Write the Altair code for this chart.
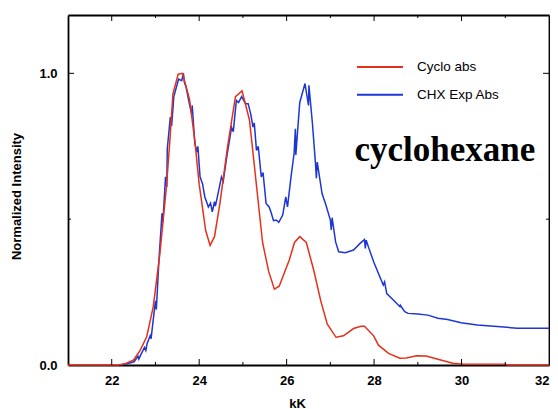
import altair as alt
import pandas as pd

# ---- data ----
cyclo_k = [21.0, 22.15, 22.3, 22.5, 22.65, 22.8, 22.95, 23.1, 23.25, 23.33, 23.4, 23.52, 23.62,
           23.78, 23.9, 24.0, 24.15, 24.25, 24.35, 24.47, 24.65, 24.83, 24.98, 25.15, 25.3,
           25.45, 25.59, 25.72, 25.83, 26.06, 26.18, 26.3, 26.45, 26.62, 26.78, 26.93, 27.13,
           27.3, 27.53, 27.7, 27.78, 27.99, 28.1, 28.33, 28.59, 28.74, 28.97, 29.19, 29.46,
           29.8, 30.06, 31.0, 31.05, 32.0]
cyclo_v = [0, 0, 0.004, 0.017, 0.05, 0.097, 0.2, 0.38, 0.61, 0.77, 0.93, 0.997, 1.0,
           0.91, 0.77, 0.62, 0.46, 0.41, 0.44, 0.55, 0.75, 0.92, 0.94, 0.84, 0.63,
           0.42, 0.32, 0.26, 0.27, 0.36, 0.42, 0.44, 0.42, 0.325, 0.22, 0.14, 0.095,
           0.10, 0.125, 0.133, 0.133, 0.10, 0.068, 0.04, 0.023, 0.024, 0.032, 0.031, 0.02,
           0.006, 0.003, 0.003, 0, 0]

chx_k = [22.2, 22.35, 22.51, 22.6, 22.62, 22.66, 22.75, 22.78, 22.81, 22.88, 22.9, 22.93,
         23.0, 23.02, 23.08, 23.15, 23.17, 23.23, 23.26, 23.27, 23.34, 23.37, 23.42, 23.53,
         23.6, 23.64, 23.66, 23.7, 23.79, 23.83, 23.84, 23.9, 23.95, 23.97, 24.02, 24.08,
         24.1, 24.13, 24.21, 24.26, 24.3, 24.35, 24.37, 24.4, 24.51, 24.55, 24.63, 24.74,
         24.78, 24.85, 24.9, 24.97, 25.06, 25.12, 25.18, 25.23, 25.26, 25.31, 25.35, 25.42,
         25.46, 25.53, 25.6, 25.65, 25.7, 25.76, 25.82, 25.91, 25.98, 26.02, 26.1, 26.17,
         26.2, 26.21, 26.3, 26.42, 26.5, 26.51, 26.59, 26.66, 26.68, 26.7, 26.81, 26.9,
         27.0, 27.02, 27.04, 27.12, 27.19, 27.34, 27.53, 27.68, 27.78, 27.8, 27.82, 27.87,
         27.99, 28.1, 28.21, 28.24, 28.29, 28.44, 28.59, 28.6, 28.7, 28.78, 29.0, 29.23,
         29.46, 29.68, 29.99, 30.36, 30.66, 30.97, 31.27, 32.0]
chx_v = [0, 0.004, 0.011, 0.03, 0.02, 0.034, 0.06, 0.05, 0.074, 0.1, 0.09, 0.13,
         0.22, 0.19, 0.36, 0.52, 0.49, 0.645, 0.61, 0.74, 0.85, 0.82, 0.92, 0.98,
         0.975, 1.0, 0.97, 0.953, 0.885, 0.86, 0.89, 0.76, 0.73, 0.75, 0.645, 0.62,
         0.60, 0.576, 0.542, 0.555, 0.525, 0.56, 0.545, 0.565, 0.645, 0.63, 0.713, 0.815,
         0.80, 0.907, 0.90, 0.92, 0.896, 0.896, 0.86, 0.816, 0.83, 0.736, 0.75, 0.645,
         0.66, 0.554, 0.542, 0.52, 0.495, 0.497, 0.489, 0.514, 0.576, 0.542, 0.645, 0.725,
         0.81, 0.72, 0.9, 0.965, 0.89, 0.959, 0.828, 0.69, 0.64, 0.696, 0.588, 0.548,
         0.497, 0.463, 0.505, 0.422, 0.388, 0.385, 0.394, 0.417, 0.43, 0.40, 0.428, 0.405,
         0.354, 0.314, 0.274, 0.285, 0.245, 0.223, 0.2, 0.205, 0.183, 0.177, 0.175, 0.171,
         0.16, 0.156, 0.145, 0.137, 0.134, 0.13, 0.126, 0.126]

series_names = ["Cyclo abs", "CHX Exp Abs"]
series_colors = ["#e5301c", "#1d36d4"]

x_domain = [21, 32]
y_domain = [0, 1.2]
x_major = [22, 24, 26, 28, 30]
x_minor = [23, 25, 27, 29, 31]
x_labels = [22, 24, 26, 28, 30, 32]
y_major = [1.0]
y_minor = [0.5]
y_labels = [0.0, 1.0]

note_text = ["cyclohexane"]
note_x = [27.55]
note_y = [0.70]

# ---- tables ----
cyclo = pd.DataFrame({"kK": cyclo_k, "val": cyclo_v, "series": series_names[0]})
chx = pd.DataFrame({"kK": chx_k, "val": chx_v, "series": series_names[1]})
xmaj = pd.DataFrame({"kK": x_major})
xmin = pd.DataFrame({"kK": x_minor})
ymaj = pd.DataFrame({"val": y_major})
ymin = pd.DataFrame({"val": y_minor})
note = pd.DataFrame({"label": note_text, "kK": note_x, "val": note_y})
frame = pd.DataFrame({"kK": x_domain, "val": y_domain})

FONT = "Liberation Sans"
W, H = 481, 350

xscale = alt.Scale(domain=x_domain, nice=False, zero=False)
yscale = alt.Scale(domain=y_domain, nice=False, zero=False)

color = alt.Color(
    "series:N",
    scale=alt.Scale(domain=series_names, range=series_colors),
    legend=alt.Legend(
        orient="none", legendX=288, legendY=44, title=None,
        symbolType="stroke", symbolSize=2116, symbolStrokeWidth=2,
        clipHeight=16, rowPadding=11.7, labelOffset=13,
        labelFont=FONT, labelFontSize=13.5, labelColor="black",
        padding=0,
    ),
)

xaxis = alt.Axis(
    values=x_labels, format="d", ticks=False, tickSize=0,
    domain=True, domainColor="black", domainWidth=1.8, grid=False,
    labelFont=FONT, labelFontWeight="bold", labelFontSize=13, labelColor="black",
    labelPadding=9, labelFlush=True, labelOverlap=False,
    title="kK", titleFont=FONT, titleFontWeight="bold", titleFontSize=13, titleColor="black",
    titleX=229, titleY=38, titleBaseline="middle", titleAlign="center",
)
yaxis = alt.Axis(
    values=y_labels, format=".1f", ticks=False, tickSize=0,
    domain=True, domainColor="black", domainWidth=1.8, grid=False,
    labelFont=FONT, labelFontWeight="bold", labelFontSize=13, labelColor="black",
    labelPadding=11, labelFlush=False, labelOverlap=False,
    title="Normalized Intensity", titleFont=FONT, titleFontWeight="bold", titleFontSize=13,
    titleColor="black", titleX=-52, titleY=181, titleAngle=270,
    titleBaseline="middle", titleAlign="center",
)
xaxis_top = alt.Axis(
    orient="top", labels=False, ticks=False, tickSize=0, title=None, grid=False,
    domain=True, domainColor="black", domainWidth=1.8,
)
yaxis_right = alt.Axis(
    orient="right", labels=False, ticks=False, tickSize=0, title=None, grid=False,
    domain=True, domainColor="black", domainWidth=1.8,
)

X = alt.X("kK:Q", scale=xscale, axis=xaxis)
Y = alt.Y("val:Q", scale=yscale, axis=yaxis)

blue = alt.Chart(chx).mark_line(strokeWidth=1.5).encode(x=X, y=Y, color=color)
red = alt.Chart(cyclo).mark_line(strokeWidth=1.5).encode(x=X, y=Y, color=color)

def xticks(df, length):
    bottom = alt.Chart(df).mark_rule(color="black", strokeWidth=1).encode(
        x=X, y=alt.value(H), y2=alt.value(H - length))
    top = alt.Chart(df).mark_rule(color="black", strokeWidth=1).encode(
        x=X, y=alt.value(0), y2=alt.value(length))
    return [bottom, top]

def yticks(df, length):
    left = alt.Chart(df).mark_rule(color="black", strokeWidth=1).encode(
        y=Y, x=alt.value(0), x2=alt.value(length))
    right = alt.Chart(df).mark_rule(color="black", strokeWidth=1).encode(
        y=Y, x=alt.value(W), x2=alt.value(W - length))
    return [left, right]

text = alt.Chart(note).mark_text(
    font="Liberation Serif", fontWeight="bold", fontSize=35, color="black",
    align="left", baseline="alphabetic",
).encode(x=X, y=Y, text="label:N")

main = alt.layer(
    blue, red,
    *xticks(xmaj, 6), *xticks(xmin, 3),
    *yticks(ymaj, 6), *yticks(ymin, 3),
    text,
)

# invisible layer carrying the top and right frame axes
mirror = alt.Chart(frame).mark_point(opacity=0).encode(
    x=alt.X("kK:Q", scale=xscale, axis=xaxis_top),
    y=alt.Y("val:Q", scale=yscale, axis=yaxis_right),
)

chart = alt.layer(main, mirror).resolve_scale(
    x="shared", y="shared"
).resolve_axis(
    x="independent", y="independent"
).properties(
    width=W, height=H,
    autosize=alt.AutoSizeParams(type="none"),
    padding={"left": 60, "top": 7, "right": 1, "bottom": 44},
).configure_view(
    stroke=None,
).configure(background="white")

chart.save("out.html", embed_options={"renderer": "svg", "actions": False})
